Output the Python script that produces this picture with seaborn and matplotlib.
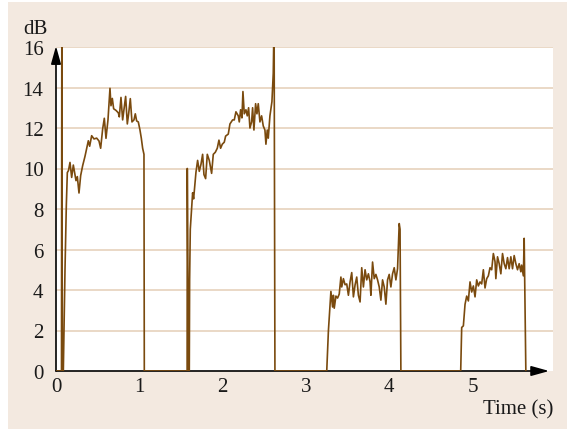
import matplotlib
matplotlib.use("Agg")
import matplotlib.pyplot as plt
from matplotlib.patches import Rectangle
import pandas as pd
import seaborn as sns

# Level trace of four successive sounds (time in s, level in dB)
burst1_t = [0.0, 0.066, 0.070, 0.076, 0.088, 0.100, 0.108, 0.124, 0.136, 0.150, 0.168, 0.188,
            0.208, 0.240, 0.256, 0.276, 0.296, 0.320, 0.348, 0.388, 0.404, 0.428, 0.456, 0.488,
            0.516, 0.536, 0.560, 0.580, 0.600, 0.624, 0.648, 0.660, 0.676, 0.692, 0.720, 0.748,
            0.760, 0.780, 0.800, 0.816, 0.836, 0.856, 0.872, 0.892, 0.912, 0.936, 0.952, 0.968,
            0.988, 1.008, 1.024, 1.040, 1.056, 1.060]
burst1_db = [0.0, 0.0, 17.5, 0.0, 0.0, 3.0, 5.0, 8.2, 9.8, 9.9, 10.3, 9.56,
             10.17, 9.4, 9.6, 8.79, 9.65, 10.14, 10.6, 11.37, 11.1, 11.62, 11.46, 11.5,
             11.36, 11.0, 11.95, 12.48, 11.49, 12.4, 13.96, 13.1, 13.46, 12.95, 12.87, 12.75,
             12.55, 13.51, 12.4, 12.9, 13.56, 12.2, 12.7, 13.45, 12.3, 12.4, 12.7, 12.35,
             12.3, 11.9, 11.5, 11.0, 10.7, 0.0]

burst2_t = [1.574, 1.576, 1.590, 1.600, 1.604, 1.612, 1.628, 1.640, 1.652, 1.680, 1.700, 1.720,
            1.740, 1.760, 1.776, 1.796, 1.816, 1.840, 1.868, 1.888, 1.912, 1.936, 1.956, 1.976,
            1.996, 2.020, 2.036, 2.068, 2.088, 2.120, 2.140, 2.160, 2.188, 2.200, 2.216, 2.232,
            2.244, 2.260, 2.280, 2.296, 2.312, 2.328, 2.348, 2.360, 2.376, 2.396, 2.412, 2.428,
            2.448, 2.468, 2.488, 2.508, 2.520, 2.536, 2.548, 2.568, 2.592, 2.608, 2.618, 2.628]
burst2_db = [0.0, 10.0, 0.0, 0.0, 4.5, 7.0, 8.0, 8.8, 8.5, 9.81, 10.4, 9.86,
             10.2, 10.7, 9.7, 9.5, 10.7, 10.4, 9.76, 10.7, 10.8, 11.0, 11.4, 11.0,
             11.2, 11.3, 11.6, 11.7, 12.2, 12.4, 12.4, 12.8, 12.6, 12.3, 12.9, 12.5,
             13.8, 12.7, 12.9, 12.6, 13.0, 12.0, 12.3, 13.0, 11.9, 13.2, 12.7, 13.2,
             12.3, 12.6, 12.1, 11.9, 11.2, 11.9, 11.5, 12.6, 13.3, 14.7, 17.5, 0.0]

burst3_t = [3.25, 3.27, 3.29, 3.30, 3.32, 3.33, 3.34, 3.36, 3.38, 3.40, 3.42, 3.43,
            3.45, 3.47, 3.49, 3.51, 3.53, 3.55, 3.57, 3.59, 3.61, 3.63, 3.65, 3.67,
            3.69, 3.71, 3.73, 3.75, 3.77, 3.78, 3.80, 3.82, 3.84, 3.86, 3.88, 3.90,
            3.92, 3.94, 3.96, 3.98, 4.00, 4.02, 4.04, 4.06, 4.08, 4.10, 4.12, 4.13, 4.14]
burst3_db = [0.0, 1.99, 3.23, 3.93, 3.16, 3.74, 3.1, 3.7, 3.6, 3.8, 4.64, 4.15,
             4.56, 4.26, 4.3, 3.74, 4.4, 4.86, 3.66, 4.25, 4.64, 3.74, 3.41, 5.1,
             4.15, 5.0, 4.5, 4.8, 4.4, 3.74, 5.38, 4.56, 4.77, 4.5, 4.15, 3.5,
             4.5, 4.15, 3.3, 4.5, 4.77, 4.15, 4.8, 5.1, 4.5, 5.05, 7.28, 7.0, 0.0]

burst4_t = [4.858, 4.87, 4.89, 4.91, 4.93, 4.95, 4.97, 4.99, 5.01, 5.03, 5.05, 5.07,
            5.09, 5.11, 5.13, 5.15, 5.17, 5.19, 5.21, 5.23, 5.25, 5.27, 5.28, 5.30,
            5.32, 5.34, 5.36, 5.38, 5.40, 5.42, 5.44, 5.46, 5.48, 5.50, 5.52, 5.54,
            5.56, 5.58, 5.59, 5.61, 5.62, 5.64]
burst4_db = [0.0, 2.15, 2.23, 3.29, 3.7, 3.46, 4.4, 3.9, 4.2, 3.66, 4.5, 4.2,
             4.4, 4.3, 5.0, 4.1, 4.56, 4.7, 5.1, 5.0, 5.8, 5.4, 4.56, 5.64,
             5.3, 4.8, 5.8, 5.3, 5.05, 5.6, 5.05, 5.64, 5.05, 5.7, 5.3, 5.0,
             5.3, 4.9, 5.23, 4.7, 6.55, 0.0]

x_ticks = [0, 1, 2, 3, 4, 5]
y_ticks = [0, 2, 4, 6, 8, 10, 12, 14, 16]

BEIGE = "#f3e9e0"
GRID = "#ead8c6"
BROWN = "#7a4a0e"
INK = "#1a1a1a"

trace = pd.DataFrame({
    "t": burst1_t + burst2_t + burst3_t + burst4_t,
    "db": burst1_db + burst2_db + burst3_db + burst4_db,
})

sns.set_theme(style="white")
plt.rcParams["font.family"] = ["Liberation Serif", "DejaVu Serif"]

fig = plt.figure(figsize=(5.67, 4.31), dpi=100, facecolor="white")
fig.patches.append(Rectangle((8 / 567, 1 / 431), 559 / 567, 427 / 431,
                             transform=fig.transFigure, facecolor=BEIGE,
                             edgecolor="none", zorder=-10))
ax = fig.add_axes([56 / 567, 1 - 372 / 431, 497 / 567, 324 / 431])
ax.set_facecolor("white")

sns.lineplot(data=trace, x="t", y="db", sort=False, estimator=None,
             color=BROWN, linewidth=1.2, ax=ax, zorder=5)

ax.set_xlim(0, 5.966)
ax.set_ylim(0, 16)
ax.set_xticks(x_ticks)
ax.set_xticklabels([str(v) for v in x_ticks])
ax.set_yticks(y_ticks)
ax.set_yticklabels([str(v) for v in y_ticks])
ax.set_xlabel("")
ax.set_ylabel("")

for v in y_ticks[1:]:
    ax.axhline(v, color=GRID, linewidth=1.4, zorder=1)

for s in ax.spines.values():
    s.set_visible(False)

ax.tick_params(axis="x", direction="in", length=5, width=1.2, color=GRID,
               labelsize=15, pad=4, labelcolor=INK)
ax.tick_params(axis="y", length=0, labelsize=15, pad=9, labelcolor=INK)

# axes drawn as arrows
ax.annotate("", xy=(5.92, 0), xytext=(0, 0), xycoords="data",
            arrowprops=dict(arrowstyle="-|>,head_length=0.9,head_width=0.25",
                            color="black", lw=1.2, shrinkA=0, shrinkB=0),
            annotation_clip=False, zorder=3)
ax.annotate("", xy=(0, 16.05), xytext=(0, 0), xycoords="data",
            arrowprops=dict(arrowstyle="-|>,head_length=0.9,head_width=0.25",
                            color="black", lw=1.2, shrinkA=0, shrinkB=0),
            annotation_clip=False, zorder=3)

ax.text(-0.016, 1.058, "dB", transform=ax.transAxes, ha="right", va="center",
        fontsize=15, color=INK)
ax.text(1.0, -0.117, "Time (s)", transform=ax.transAxes, ha="right", va="center",
        fontsize=15, color=INK)

fig.savefig("out.png", dpi=100, facecolor="white")
